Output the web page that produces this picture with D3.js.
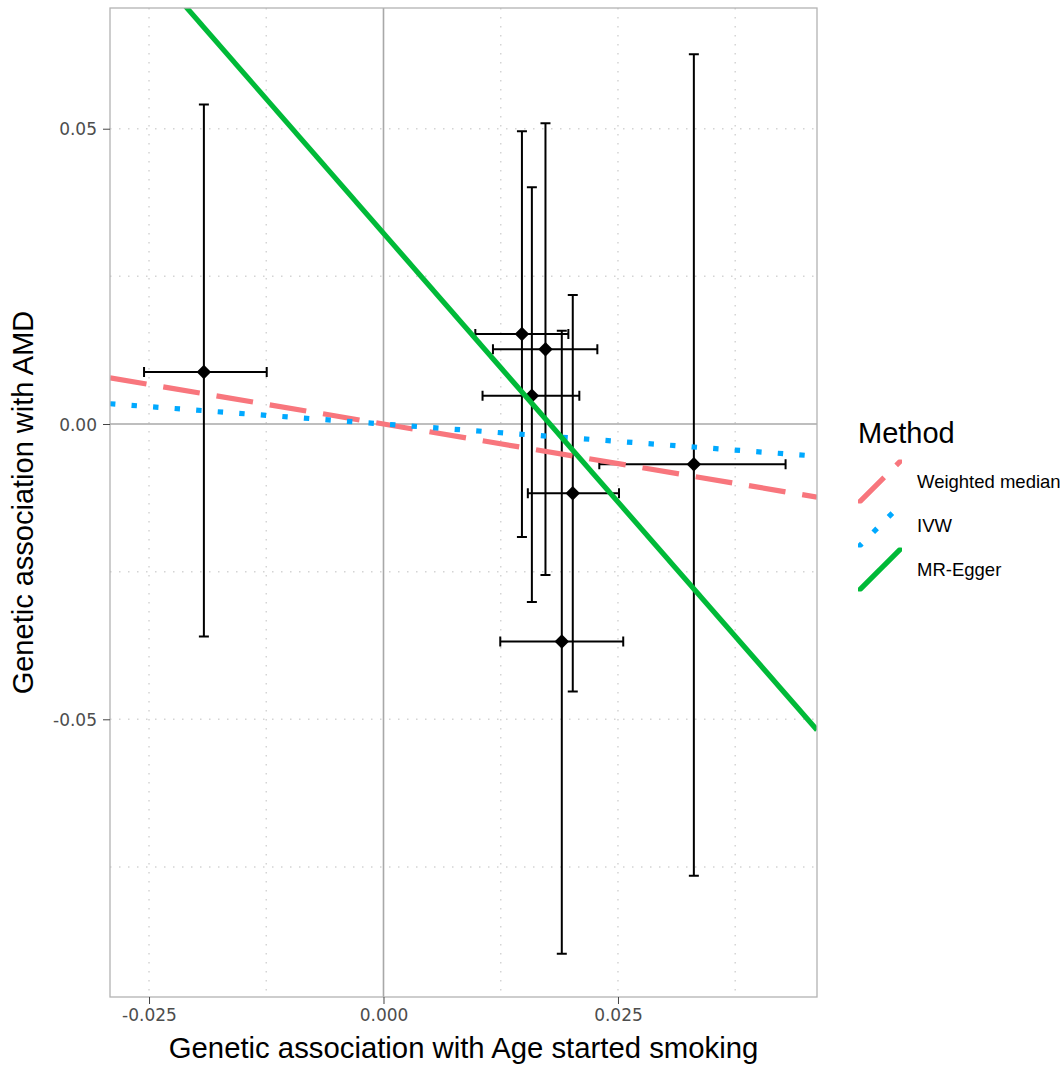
<!DOCTYPE html>
<html>
<head>
<meta charset="utf-8">
<script src="https://cdn.jsdelivr.net/npm/d3@7"></script>
<style>
    body { margin: 0; background: #fff; }
    text { font-family: "Liberation Sans", Arial, sans-serif; }
</style>
</head>
<body>
<svg id="chart" width="1062" height="1072"></svg>
<script>
// SNP-level estimates
const snpBetaX = [-0.01915, 0.01476, 0.01727, 0.01582, 0.02018, 0.01901, 0.03309]
const snpBetaXLo = [-0.02553, 0.00979, 0.01167, 0.01056, 0.01539, 0.01245, 0.02301]
const snpBetaXHi = [-0.01245, 0.01971, 0.02280, 0.02088, 0.02511, 0.02556, 0.04287]
const snpBetaY = [0.0088, 0.01523, 0.01264, 0.00479, -0.01173, -0.03684, -0.00682]
const snpBetaYLo = [-0.0360, -0.01912, -0.02555, -0.03012, -0.0453, -0.0897, -0.0765]
const snpBetaYHi = [0.0541, 0.04958, 0.05093, 0.0401, 0.02183, 0.01579, 0.0626]

// MR method fits
const methods = ["Weighted median", "IVW", "MR-Egger"]
const methodIntercepts = [0, 0, 0.0323]
const methodSlopes = [-0.268, -0.1177, -1.82]
const methodColors = ["#F8767D", "#00A9FF", "#00BA38"]
const methodDashes = ["37,17", "5.4,16.2", null]

const xTicks = [-0.025, 0, 0.025]
const xMinor = [-0.0125, 0.0125, 0.0375]
const yTicks = [-0.05, 0, 0.05]
const yMinor = [-0.075, -0.025, 0.025]

const xTitle = "Genetic association with Age started smoking"
const yTitle = "Genetic association with AMD"
const legendTitle = "Method"

const panel = {left: 110, top: 8, right: 817, bottom: 997}

let svg = d3.select("svg#chart")

let x = d3.scaleLinear()
    .domain([-0.02916, 0.04622])
    .range([panel.left, panel.right])
let y = d3.scaleLinear()
    .domain([-0.09702, 0.07044])
    .range([panel.bottom, panel.top])

svg.append("defs").append("clipPath")
    .attr("id", "panel-clip")
    .append("rect")
    .attr("x", panel.left)
    .attr("y", panel.top)
    .attr("width", panel.right - panel.left)
    .attr("height", panel.bottom - panel.top)

// Grid (dotted, major and minor alike)
let grid = svg.append("g").classed("grid", true)
    .attr("stroke", "#d4d4d4")
    .attr("stroke-width", 1.5)
    .attr("stroke-dasharray", "1.5,7.5")
grid.selectAll("line.vx")
    .data(xTicks.concat(xMinor).filter(d => d != 0))
    .join("line")
        .classed("vx", true)
        .attr("x1", d => x(d)).attr("x2", d => x(d))
        .attr("y1", panel.top).attr("y2", panel.bottom)
grid.selectAll("line.hy")
    .data(yTicks.concat(yMinor).filter(d => d != 0))
    .join("line")
        .classed("hy", true)
        .attr("y1", d => y(d)).attr("y2", d => y(d))
        .attr("x1", panel.left).attr("x2", panel.right)

// Zero reference lines
svg.append("line")
    .attr("x1", x(0)).attr("x2", x(0))
    .attr("y1", panel.top).attr("y2", panel.bottom)
    .attr("stroke", "#a8a8a8").attr("stroke-width", 1.6)
svg.append("line")
    .attr("y1", y(0)).attr("y2", y(0))
    .attr("x1", panel.left).attr("x2", panel.right)
    .attr("stroke", "#a8a8a8").attr("stroke-width", 1.6)

let snps = snpBetaX.map((bx, i) => ({
    bx, by: snpBetaY[i],
    xlo: snpBetaXLo[i], xhi: snpBetaXHi[i],
    ylo: snpBetaYLo[i], yhi: snpBetaYHi[i],
}))

// Error bars
let bars = svg.append("g").classed("errorbars", true)
    .attr("clip-path", "url(#panel-clip)")
    .attr("stroke", "#000")
    .attr("stroke-width", 2)
    .attr("fill", "none")
let cap = 5
bars.selectAll("path.v")
    .data(snps)
    .join("path")
        .classed("v", true)
        .attr("d", d => {
            let cx = x(d.bx), t = y(d.yhi), b = y(d.ylo)
            return `M${cx - cap},${t}H${cx + cap}M${cx},${t}V${b}M${cx - cap},${b}H${cx + cap}`
        })
bars.selectAll("path.h")
    .data(snps)
    .join("path")
        .classed("h", true)
        .attr("d", d => {
            let cy = y(d.by), l = x(d.xlo), r = x(d.xhi)
            return `M${l},${cy - cap}V${cy + cap}M${l},${cy}H${r}M${r},${cy - cap}V${cy + cap}`
        })

// Points (diamonds)
let diamond = d3.symbol().type(d3.symbolSquare).size(105)
svg.append("g").classed("points", true)
    .selectAll("path")
    .data(snps)
    .join("path")
        .attr("d", diamond)
        .attr("transform", d => `translate(${x(d.bx)},${y(d.by)}) rotate(45)`)
        .attr("fill", "#000")

// Method lines
let fits = methods.map((name, i) => ({
    name, a: methodIntercepts[i], b: methodSlopes[i],
    color: methodColors[i], dash: methodDashes[i],
}))
let [x0, x1] = x.domain()
svg.append("g").classed("fits", true)
    .attr("clip-path", "url(#panel-clip)")
    .selectAll("line")
    .data(fits)
    .join("line")
        .attr("x1", x(x0)).attr("y1", d => y(d.a + d.b * x0))
        .attr("x2", x(x1)).attr("y2", d => y(d.a + d.b * x1))
        .attr("stroke", d => d.color)
        .attr("stroke-width", 5.2)
        .attr("stroke-dasharray", d => d.dash)

// Panel border
svg.append("rect")
    .attr("x", panel.left).attr("y", panel.top)
    .attr("width", panel.right - panel.left)
    .attr("height", panel.bottom - panel.top)
    .attr("fill", "none")
    .attr("stroke", "#b3b3b3")
    .attr("stroke-width", 1.3)

// Axes (plain hyphen for negatives, as R prints them)
let fmt = p => d => d3.format(p)(d).replace("\u2212", "-")
let xAxis = svg.append("g")
    .attr("transform", `translate(0,${panel.bottom})`)
    .call(d3.axisBottom(x).tickValues(xTicks).tickSize(7).tickPadding(5)
        .tickFormat(fmt(".3f")))
let yAxis = svg.append("g")
    .attr("transform", `translate(${panel.left},0)`)
    .call(d3.axisLeft(y).tickValues(yTicks).tickSize(7).tickPadding(6)
        .tickFormat(fmt(".2f")))
for (let ax of [xAxis, yAxis]) {
    ax.select(".domain").remove()
    ax.selectAll(".tick line").attr("stroke", "#444")
    ax.selectAll(".tick text")
        .attr("fill", "#4d4d4d")
        .style("font-family", "'DejaVu Sans', sans-serif")
        .style("font-size", "17px")
}
yAxis.selectAll(".tick text").attr("dy", "0.36em")

// Axis titles
svg.append("text")
    .attr("x", (panel.left + panel.right) / 2)
    .attr("y", 1058)
    .attr("text-anchor", "middle")
    .style("font-size", "29.3px")
    .text(xTitle)
svg.append("text")
    .attr("transform", `translate(33,${(panel.top + panel.bottom) / 2}) rotate(-90)`)
    .attr("text-anchor", "middle")
    .style("font-size", "29px")
    .text(yTitle)

// Legend
let legend = svg.append("g").classed("legend", true)
legend.append("text")
    .attr("x", 858)
    .attr("y", 443)
    .style("font-size", "29px")
    .text(legendTitle)
let keySize = 44
let keyTop = 459.5
let keys = legend.selectAll("g.key")
    .data(fits)
    .join("g")
        .classed("key", true)
        .attr("transform", (d, i) => `translate(858,${keyTop + i * keySize})`)
keys.append("clipPath")
    .attr("id", (d, i) => `key-clip-${i}`)
    .append("rect")
    .attr("width", keySize).attr("height", keySize)
keys.append("line")
    .attr("clip-path", (d, i) => `url(#key-clip-${i})`)
    .attr("x1", 0).attr("y1", keySize)
    .attr("x2", keySize).attr("y2", 0)
    .attr("stroke", d => d.color)
    .attr("stroke-width", 5.2)
    .attr("stroke-dasharray", d => d.dash)
keys.append("text")
    .attr("x", 59)
    .attr("y", keySize / 2)
    .attr("dy", "0.36em")
    .style("font-size", "18.5px")
    .text(d => d.name)
</script>
</body>
</html>
